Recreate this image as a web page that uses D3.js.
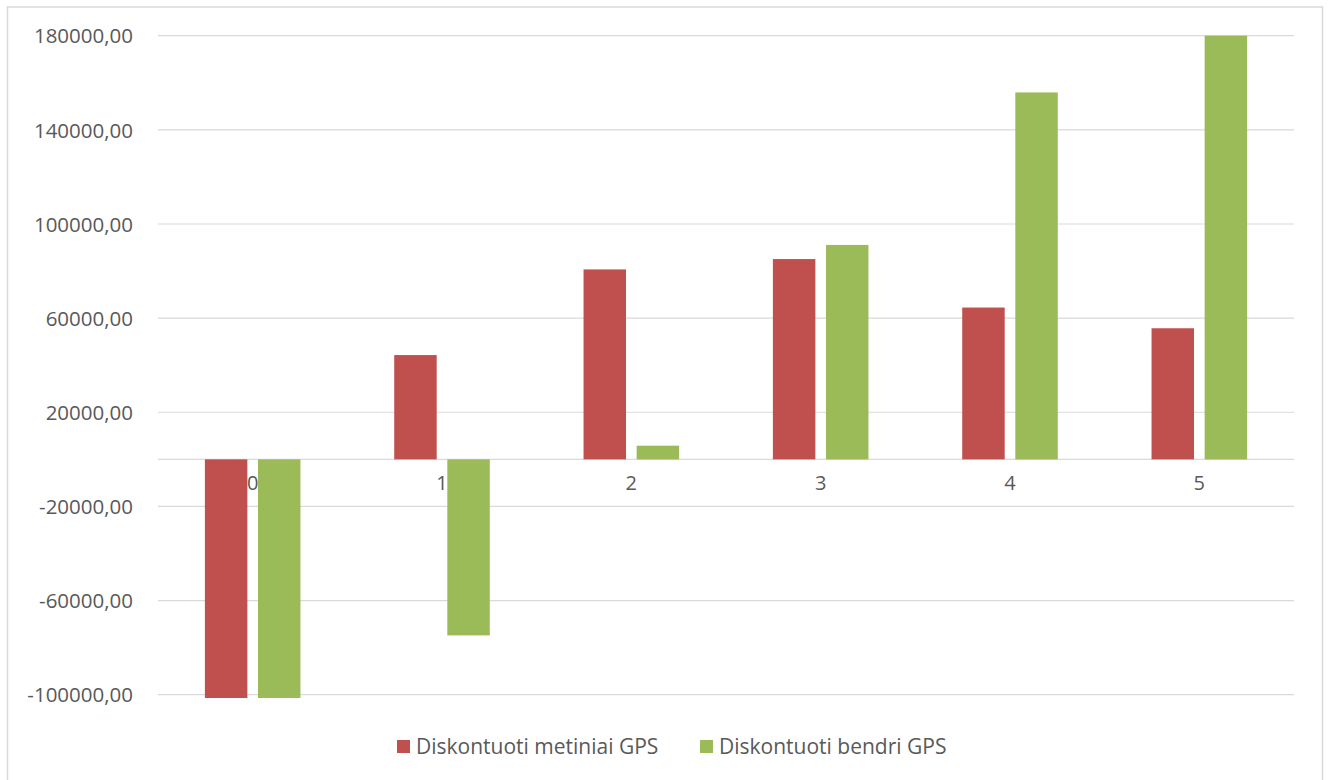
<!DOCTYPE html>
<html>
<head>
<meta charset="utf-8">
<script src="https://cdn.jsdelivr.net/npm/d3@7"></script>
<style>
  html, body { margin: 0; padding: 0; background: #fff; }
  svg { display: block; }
</style>
</head>
<body>
<svg id="chart" width="1328" height="780"></svg>
<script>
const categories = ["0", "1", "2", "3", "4", "5"];
const seriesNames = ["Diskontuoti metiniai GPS", "Diskontuoti bendri GPS"];
const metiniai = [-101400, 44300, 80700, 85100, 64500, 55700];
const bendri = [-101400, -74800, 5800, 91100, 155900, 180000];
const yTicks = [-100000, -60000, -20000, 20000, 60000, 100000, 140000, 180000];
const colors = ["#C0504D", "#9BBB59"];

const svg = d3.select("#chart");
const plot = { left: 158, right: 1294, top: 35.7, bottom: 694.7 };
const axisFont = '"Open Sans", "Noto Sans", sans-serif';

// chart border
svg.append("rect")
  .attr("x", 7.5).attr("y", 7).attr("width", 1315).attr("height", 800)
  .attr("fill", "#fff").attr("stroke", "#d9d9d9").attr("stroke-width", 1.5);

const y = d3.scaleLinear().domain([-100000, 180000]).range([plot.bottom, plot.top]);
const x0 = d3.scaleBand().domain(categories).range([plot.left, plot.right]).padding(0);
const x1 = d3.scaleBand().domain(seriesNames).range([0, x0.bandwidth()])
  .paddingInner(0.2).paddingOuter(0.883);

const fmt = v => d3.format(".2f")(v).replace(".", ",").replace("\u2212", "-");

// gridlines
svg.append("g")
  .selectAll("line.grid").data(yTicks).join("line")
  .attr("x1", plot.left).attr("x2", plot.right)
  .attr("y1", d => y(d)).attr("y2", d => y(d))
  .attr("stroke", "#d9d9d9").attr("stroke-width", 1.2);

const yAxis = d3.axisLeft(y).tickValues(yTicks).tickSize(0).tickFormat(fmt);
const ga = svg.append("g").attr("transform", `translate(${plot.left - 22},0)`).call(yAxis);
ga.select(".domain").remove();
ga.selectAll("text")
  .style("font-family", axisFont)
  .attr("font-size", 20.5).attr("fill", "#595959").attr("dy", "0.35em");

// zero axis line
svg.append("line")
  .attr("x1", plot.left).attr("x2", plot.right)
  .attr("y1", y(0)).attr("y2", y(0))
  .attr("stroke", "#d9d9d9").attr("stroke-width", 1.2);

// category labels (under bars)
const xAxis = d3.axisBottom(x0).tickSize(0).tickPadding(0);
const gx = svg.append("g").attr("transform", `translate(0,${y(0) + 24})`).call(xAxis);
gx.select(".domain").remove();
gx.selectAll("text")
  .style("font-family", axisFont)
  .attr("font-size", 20).attr("fill", "#595959").attr("dy", "0.35em");

// bars
const rows = categories.map((c, i) => ({ cat: c, vals: [metiniai[i], bendri[i]] }));
const g = svg.append("g").selectAll("g").data(rows).join("g")
  .attr("transform", d => `translate(${x0(d.cat)},0)`);
g.selectAll("rect").data(d => d.vals.map((v, j) => ({ s: seriesNames[j], v, j })))
  .join("rect")
  .attr("x", d => x1(d.s))
  .attr("width", x1.bandwidth())
  .attr("y", d => y(Math.max(0, d.v)))
  .attr("height", d => Math.abs(y(d.v) - y(0)))
  .attr("fill", d => colors[d.j]);

// legend
const legendX = [397, 700];
const lg = svg.append("g");
seriesNames.forEach((s, i) => {
  lg.append("rect").attr("x", legendX[i]).attr("y", 740).attr("width", 13).attr("height", 13)
    .attr("fill", colors[i]);
  lg.append("text").attr("x", legendX[i] + 19).attr("y", 746.5).attr("dy", "0.35em")
    .style("font-family", axisFont)
    .attr("fill", "#595959")
    .attr("font-size", 21).text(s);
});
</script>
</body>
</html>
